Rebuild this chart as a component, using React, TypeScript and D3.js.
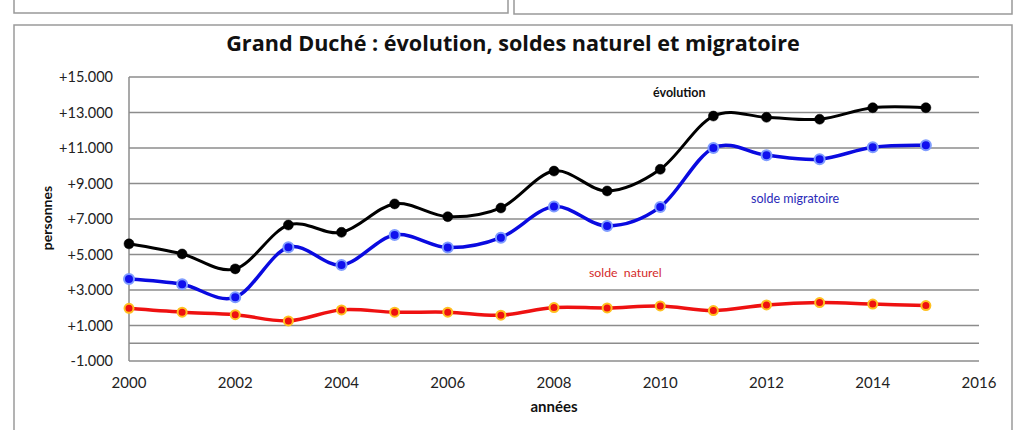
import React from "react";
import * as d3 from "d3";

const years = [2000, 2001, 2002, 2003, 2004, 2005, 2006, 2007, 2008, 2009, 2010, 2011, 2012, 2013, 2014, 2015];
const evolution = [5600, 5030, 4190, 6660, 6250, 7850, 7130, 7620, 9700, 8580, 9800, 12800, 12730, 12620, 13270, 13270];
const soldeMigratoire = [3620, 3320, 2590, 5410, 4410, 6100, 5390, 5950, 7700, 6610, 7680, 11000, 10590, 10370, 11040, 11150];
const soldeNaturel = [1970, 1750, 1610, 1260, 1880, 1750, 1750, 1580, 2010, 1990, 2100, 1840, 2160, 2290, 2210, 2120];
const yTicks = [-1000, 1000, 3000, 5000, 7000, 9000, 11000, 13000, 15000];
const xTicks = [2000, 2002, 2004, 2006, 2008, 2010, 2012, 2014, 2016];

const FONT = "Lato, 'Open Sans', sans-serif";
const TFONT = "'Open Sans', Lato, sans-serif";

export default function App() {
  const W = 1015, H = 430;
  const x = d3.scaleLinear().domain([2000, 2016]).range([129, 979]);
  const y = d3.scaleLinear().domain([-1000, 15000]).range([361, 77]);
  const line = d3
    .line<[number, number]>()
    .x((d) => x(d[0]))
    .y((d) => y(d[1]))
    .curve(d3.curveCardinal.tension(0));
  const fmt = (v: number) => (v > 0 ? "+" : "-") + d3.format(",")(Math.abs(v)).replace(/,/g, ".");
  const series = [
    { vals: soldeNaturel, color: "#ee1111", width: 3.5, fill: "#ee1111", stroke: "#ffc020", r: 4.5, sw: 2 },
    { vals: soldeMigratoire, color: "#0a0ae0", width: 3.5, fill: "#1010ee", stroke: "#7f9cff", r: 5, sw: 2 },
    { vals: evolution, color: "#000000", width: 3, fill: "#000000", stroke: "#000000", r: 5, sw: 0.5 },
  ];
  return (
    <svg width={W} height={H} style={{ position: "absolute", left: 0, top: 0, background: "#fff" }}>
      <rect x={0} y={0} width={W} height={H} fill="#ffffff" />
      {/* cut-off panels above */}
      <rect x={14} y={-5} width={494} height={18} fill="none" stroke="#999" strokeWidth={1.5} />
      <rect x={514} y={-5} width={498} height={19} fill="none" stroke="#999" strokeWidth={1.5} />
      {/* chart frame */}
      <rect x={14} y={25} width={998} height={420} fill="none" stroke="#9a9a9a" strokeWidth={1.5} />
      <text x={513} y={51} textAnchor="middle" fontFamily={TFONT} fontWeight="bold" fontSize={21.6} fill="#111">
        Grand Duché : évolution, soldes naturel et migratoire
      </text>
      {/* gridlines */}
      {[...yTicks, 0].map((t) => (
        <line key={t} x1={129} x2={979} y1={y(t)} y2={y(t)} stroke="#8c8c8c" strokeWidth={1.5} />
      ))}
      <line x1={x(2000)} x2={x(2000)} y1={y(15000)} y2={y(-1000)} stroke="#8c8c8c" strokeWidth={1.5} />
      {yTicks.map((t) => (
        <text key={t} x={113} y={y(t) + 5} textAnchor="end" fontFamily={FONT} fontSize={14.5} fill="#222">
          {fmt(t)}
        </text>
      ))}
      {xTicks.map((t) => (
        <text key={t} x={x(t)} y={388} textAnchor="middle" fontFamily={FONT} fontSize={15} fill="#222">
          {t}
        </text>
      ))}
      <text x={554} y={412} textAnchor="middle" fontFamily={FONT} fontWeight="bold" fontSize={15} fill="#111">
        années
      </text>
      <text
        transform={`translate(52, 218) rotate(-90)`}
        textAnchor="middle"
        fontFamily={FONT}
        fontWeight="bold"
        fontSize={14}
        fill="#111"
      >
        personnes
      </text>
      {series.map((s, i) => {
        const pts = years.map((yr, j) => [yr, s.vals[j]] as [number, number]);
        return (
          <g key={i}>
            <path d={line(pts) || ""} fill="none" stroke={s.color} strokeWidth={s.width} />
            {pts.map((p, j) => (
              <circle key={j} cx={x(p[0])} cy={y(p[1])} r={s.r} fill={s.fill} stroke={s.stroke} strokeWidth={s.sw} />
            ))}
          </g>
        );
      })}
      <text x={653} y={97} fontFamily={FONT} fontWeight="bold" fontSize={12.5} fill="#111">
        évolution
      </text>
      <text x={751} y={203} fontFamily={FONT} fontSize={12.5} fill="#2a2ab8">
        solde migratoire
      </text>
      <text x={589} y={277} fontFamily={FONT} fontSize={12.3} fill="#d42a2a" style={{ whiteSpace: "pre" }}>
        {"solde  naturel"}
      </text>
    </svg>
  );
}
